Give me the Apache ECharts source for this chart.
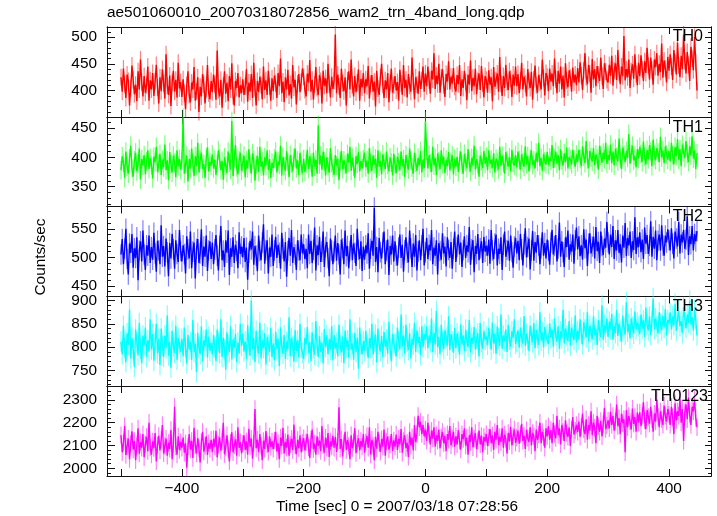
<!DOCTYPE html>
<html><head><meta charset="utf-8">
<script src="https://cdn.jsdelivr.net/npm/echarts@6/dist/echarts.min.js"></script>
<style>html,body{margin:0;padding:0;background:#fff}#c{width:717px;height:516px}</style>
</head><body><div id="c"></div>
<script>
const titleText = "ae501060010_20070318072856_wam2_trn_4band_long.qdp";
const xTitle = "Time [sec] 0 = 2007/03/18 07:28:56";
const yTitle = "Counts/sec";
const tStart = -500, tStep = 2;
const xMin = -523, xMax = 469;
const xTicks = [-500,-400,-300,-200,-100,0,100,200,300,400];
const xLabels = [-400,-200,0,200,400];
const bandNames = ["TH0","TH1","TH2","TH3","TH0123"];
const bandErr = [16,16,18,22,38];

const th0 = [
425,398,441,412,386,430,418,372,405,447,420,393,411,380,436,402,458,415,389,427,396,410,445,381,419,
402,433,390,417,448,406,376,425,399,440,414,385,468,409,392,428,371,415,437,398,420,387,452,404,416,
388,421,395,365,410,436,392,378,415,402,444,381,398,425,360,407,389,431,412,376,403,448,395,384,418,
397,430,412,383,475,401,389,420,368,409,436,394,415,380,427,402,451,390,372,418,405,433,387,410,395,
421,392,408,440,379,415,398,431,386,452,405,372,418,397,426,410,384,445,401,419,392,437,408,381,423,
399,428,414,386,433,408,460,395,417,378,425,402,439,391,412,385,448,406,420,374,413,431,397,416,441,
426,401,389,432,415,457,398,420,383,411,444,405,392,429,418,376,437,409,423,395,450,412,387,426,403,
418,505,395,430,408,386,441,414,399,425,372,419,436,402,458,411,389,427,397,415,440,381,422,406,433,
395,421,408,446,385,413,429,398,417,370,437,404,392,425,450,411,386,419,402,433,378,415,441,396,410,
427,400,416,381,439,413,392,448,405,420,387,431,409,398,462,417,384,425,411,394,436,403,419,445,398,
432,408,445,419,394,437,421,470,403,428,412,450,396,425,440,410,388,431,417,455,402,426,413,442,407,
398,429,412,448,390,421,405,437,416,382,430,411,456,399,424,408,441,393,418,432,401,446,414,387,427,
420,396,438,411,425,380,444,407,419,432,398,463,413,390,427,405,448,416,401,436,422,388,430,409,445,
408,431,395,419,452,402,426,413,389,440,418,405,435,383,421,447,410,396,429,415,402,458,424,391,433,
426,399,441,417,432,408,460,421,395,437,413,445,402,428,387,451,419,406,438,424,398,443,415,430,410,
442,415,453,428,401,437,470,425,412,448,432,396,459,421,440,408,446,430,418,462,427,403,451,436,420,
415,448,428,465,409,437,451,420,476,433,412,445,427,502,419,440,425,458,405,436,449,422,468,431,410,
452,427,466,440,418,455,433,480,447,421,462,439,411,458,444,470,428,450,435,488,424,456,441,415,463,
437,468,445,420,476,452,430,490,447,425,465,440,505,455,432,472,448,418,482,460,438,500,452,400];
const th1 = [
378,402,391,365,410,384,372,398,420,381,367,395,408,376,389,415,362,397,386,404,371,393,412,380,399,
387,364,401,392,418,375,389,406,370,396,383,422,378,395,361,409,388,374,403,391,366,412,385,397,379,
394,468,372,388,403,359,397,381,415,390,368,402,385,425,374,396,408,380,389,365,399,417,376,392,386,
405,381,396,370,389,412,398,378,394,362,400,386,373,410,391,379,462,368,398,421,383,371,395,408,377,
390,403,366,395,381,414,389,372,407,396,360,388,402,375,418,384,393,369,400,386,412,378,397,365,391,
382,398,410,374,393,387,420,369,401,385,377,411,392,366,404,389,376,399,415,381,395,370,408,386,373,
397,375,389,413,380,402,391,367,408,384,396,372,455,388,403,379,410,393,369,400,385,374,416,390,382,
370,404,386,398,361,393,411,380,395,387,373,406,391,418,377,399,384,365,402,389,409,376,394,381,397,
408,383,395,372,416,390,377,403,388,398,365,412,384,394,371,405,392,380,410,387,376,400,391,369,406,
388,373,401,392,378,410,385,397,366,404,389,379,415,395,383,372,408,391,377,399,386,411,374,396,382,
462,412,381,404,390,375,418,386,399,370,407,393,380,412,388,401,373,396,385,409,378,392,404,371,398,
384,401,375,395,410,387,372,406,392,381,414,390,376,399,386,420,379,397,388,367,403,393,382,411,389,
401,378,412,389,396,382,407,374,398,392,379,418,385,403,390,372,409,395,384,400,376,413,391,386,404,
383,410,395,379,405,391,384,419,388,402,376,397,412,387,395,381,408,392,425,385,399,377,406,393,388,
409,387,400,394,421,382,398,410,389,404,378,414,395,386,407,392,417,381,401,396,388,413,397,384,405,
392,413,398,385,419,401,390,428,396,382,411,400,393,416,387,405,398,379,420,403,391,408,397,425,389,
404,395,422,390,410,386,415,401,393,432,398,380,417,405,392,411,399,440,389,406,420,395,403,383,414,
398,418,406,392,427,401,388,413,397,421,410,385,430,403,395,416,408,392,435,400,412,390,419,405,396,
411,393,425,404,388,418,402,431,396,414,385,422,409,399,428,406,392,419,403,436,398,412,380,407];
const th2 = [
505,532,488,515,550,497,470,524,508,541,482,516,499,535,460,512,528,493,547,505,478,521,503,538,490,
518,496,543,507,475,529,512,488,556,501,520,484,533,509,467,525,498,541,514,480,530,506,492,548,511,
493,521,506,472,537,514,498,545,481,510,526,463,515,532,490,507,549,485,519,501,538,476,512,528,497,
526,488,514,539,503,477,520,555,495,512,483,530,508,547,469,516,501,535,490,522,511,481,544,506,519,
500,534,492,517,461,508,529,514,545,487,520,503,476,538,511,495,526,558,489,513,530,472,517,501,540,
485,512,536,499,522,508,480,543,515,493,527,466,511,534,503,548,490,518,505,478,530,512,495,540,507,
523,497,515,481,540,506,529,490,513,552,477,521,504,536,492,510,545,483,518,527,499,467,533,512,488,
510,538,494,525,505,470,531,516,488,547,502,520,481,511,539,495,524,508,485,550,513,497,528,476,519,
496,521,507,542,480,515,529,503,587,492,518,474,534,509,498,526,545,488,512,531,469,520,505,538,493,
528,503,486,517,540,499,522,475,513,535,508,491,547,516,483,524,501,539,477,510,530,495,521,550,486,
509,534,497,522,512,548,488,517,503,530,470,525,511,496,542,507,519,484,535,513,499,527,480,515,545,
492,518,540,505,526,483,513,537,499,521,509,553,487,514,530,474,520,506,541,495,516,528,490,536,510,
520,503,531,489,548,512,497,524,540,486,515,506,535,478,522,545,501,513,529,494,538,509,482,519,534,
507,529,495,541,514,486,523,551,500,518,533,479,512,546,494,527,508,539,521,488,516,544,503,525,498,
531,512,487,526,548,505,520,539,493,515,561,501,528,509,483,535,518,547,496,523,510,540,489,530,552,
514,537,502,521,496,549,516,531,485,524,542,507,519,536,498,553,511,527,490,545,520,504,533,517,562,
526,505,540,518,555,497,530,512,548,508,523,491,538,517,560,502,534,521,545,499,528,513,570,506,535,
518,544,509,531,497,552,524,539,506,520,563,501,536,515,547,495,529,540,512,556,521,503,538,526,549,
530,512,551,524,498,545,533,519,562,507,540,526,548,515,531,572,504,537,523,555,512,541,528,546];
const th3 = [
812,785,846,798,768,830,805,880,776,820,795,758,838,810,783,852,797,766,825,804,842,779,815,791,860,
795,828,771,810,850,787,818,762,840,803,779,825,798,868,782,812,756,835,801,788,846,773,820,806,790,
818,781,842,800,765,826,795,812,773,858,790,808,747,831,799,785,845,770,815,802,838,778,823,792,810,
784,826,801,770,838,812,787,860,779,820,796,752,832,805,790,845,774,817,799,828,768,810,786,850,803,
830,791,812,775,847,806,782,900,795,820,768,835,801,787,853,776,815,798,830,763,822,805,790,841,779,
808,772,833,797,818,760,842,801,786,826,775,812,795,864,780,820,803,769,837,792,815,778,850,799,788,
775,820,806,843,788,811,770,832,798,784,856,803,779,824,790,810,765,839,800,826,785,818,794,845,772,
826,797,810,781,848,804,789,823,766,836,800,815,778,860,795,808,773,831,790,820,754,842,806,785,813,
792,835,803,777,819,798,850,784,812,827,768,840,806,791,824,779,833,801,817,786,855,796,770,828,810,
806,780,842,813,796,870,801,825,787,848,812,794,830,776,818,805,852,790,836,809,822,783,845,800,828,
815,845,798,825,810,862,790,831,806,878,800,822,785,848,812,796,836,820,803,866,794,828,812,788,841,
798,830,812,784,849,806,825,792,838,814,800,858,789,821,807,843,795,818,830,780,852,811,797,834,816,
823,805,841,817,795,853,808,829,786,845,819,803,870,797,825,812,838,790,848,816,801,834,820,860,807,
811,836,799,842,821,808,867,803,830,815,792,846,826,810,852,798,837,820,805,875,814,832,800,843,824,
828,807,851,820,838,801,862,826,812,845,797,834,819,880,808,840,825,813,856,803,842,827,815,868,810,
835,818,860,829,806,853,838,821,875,812,846,832,817,866,826,840,805,858,835,822,890,816,848,831,862,
822,855,838,871,816,845,830,880,824,851,835,812,868,841,827,896,833,850,819,862,844,829,877,838,853,
845,828,870,840,858,822,885,848,836,866,826,855,904,838,862,845,830,875,851,836,868,842,882,825,858,
852,874,838,866,847,893,835,860,878,845,856,830,886,862,841,870,852,900,848,865,836,880,858,825];
const th0123 = [
2145,2070,2112,2185,2058,2096,2130,2040,2108,2162,2082,2120,2035,2098,2175,2064,2115,2090,2150,2048,2105,2138,2075,2200,2092,
2060,2118,2088,2155,2030,2102,2142,2078,2125,2190,2065,2098,2130,2055,2112,2085,2168,2040,2107,2270,2095,2060,2140,2080,2115,
2090,2135,2068,2110,2002,2096,2150,2082,2120,2045,2178,2100,2065,2132,2088,2025,2115,2160,2073,2098,2140,2058,2110,2085,2125,
2070,2128,2095,2165,2048,2104,2136,2077,2118,2200,2062,2092,2145,2084,2030,2112,2158,2070,2101,2127,2055,2180,2090,2115,2066,
2108,2145,2080,2118,2060,2173,2095,2130,2042,2110,2260,2088,2125,2070,2150,2098,2035,2120,2085,2163,2105,2072,2140,2094,2118,
2085,2122,2160,2074,2110,2040,2135,2098,2178,2065,2116,2090,2148,2055,2105,2130,2080,2192,2100,2062,2125,2088,2145,2070,2112,
2132,2078,2115,2150,2092,2045,2126,2170,2084,2108,2060,2140,2098,2122,2075,2185,2102,2068,2135,2090,2155,2050,2118,2095,2142,
2090,2138,2072,2117,2268,2085,2128,2052,2110,2160,2080,2124,2098,2040,2145,2088,2115,2175,2066,2108,2132,2078,2120,2095,2150,
2068,2115,2142,2090,2180,2060,2125,2100,2035,2138,2086,2160,2110,2072,2128,2095,2170,2055,2118,2140,2082,2104,2150,2076,2122,
2095,2148,2080,2130,2105,2172,2068,2120,2145,2088,2112,2050,2160,2100,2135,2078,2190,2115,2150,2230,2180,2205,2150,2190,2140,
2170,2120,2200,2150,2105,2165,2130,2180,2095,2145,2120,2170,2088,2135,2160,2110,2142,2075,2150,2125,2185,2100,2130,2160,2095,
2140,2105,2168,2120,2082,2150,2128,2175,2100,2135,2060,2145,2115,2180,2092,2130,2155,2085,2120,2165,2105,2142,2070,2138,2118,
2150,2098,2135,2172,2110,2145,2080,2160,2125,2190,2102,2138,2115,2175,2090,2148,2128,2065,2155,2118,2182,2100,2140,2170,2112,
2135,2165,2108,2150,2195,2120,2142,2085,2168,2132,2115,2180,2100,2155,2140,2075,2170,2125,2148,2200,2110,2160,2135,2090,2175,
2140,2185,2125,2168,2110,2200,2150,2132,2230,2145,2175,2105,2190,2160,2120,2210,2155,2138,2180,2098,2170,2225,2148,2165,2190,
2160,2205,2138,2182,2240,2170,2150,2215,2125,2190,2165,2250,2145,2200,2178,2110,2230,2185,2160,2208,2140,2195,2265,2172,2188,
2210,2175,2248,2190,2230,2165,2205,2280,2185,2220,2150,2240,2198,2215,2070,2255,2180,2230,2205,2170,2262,2195,2225,2160,2245,
2200,2245,2185,2230,2290,2210,2172,2255,2225,2195,2270,2215,2160,2240,2205,2300,2225,2180,2250,2215,2190,2275,2230,2205,2260,
2235,2190,2270,2225,2150,2285,2210,2250,2230,2305,2200,2260,2120,2245,2280,2215,2310,2235,2190,2270,2250,2300,2220,2180];

const yRanges = [[350.5,519],[316,469],[431.5,589],[717,908.6],[1966,2361]];
const yMajor = [[400,450,500],[350,400,450],[450,500,550],[750,800,850,900],[2000,2100,2200,2300]];
const yMinorStep = [10,10,10,10,20];

const seriesValues = [th0, th1, th2, th3, th0123];
const colors = ['#ff0000','#00ff00','#0000ff','#00ffff','#ff00ff'];
const errColors = ['rgba(255,0,0,0.5)','rgba(0,255,0,0.5)','rgba(0,0,255,0.5)','rgba(0,255,255,0.5)','rgba(255,0,255,0.5)'];

const FONT = '"Liberation Sans", Arial, Helvetica, sans-serif';
const gridTops = [27,117,206.5,296.5,386];
const gridH = [90,89.5,90,89.5,90];

const grids = [], xAxes = [], yAxes = [], series = [];
const axisLineStyle = {color:'#111', width:1};
const minus = v => String(v).replace('-', '\u2212');
const plain = v => String(v);

for (let i = 0; i < 5; i++) {
  grids.push({left:107, width:604, top:gridTops[i], height:gridH[i], containLabel:false});
  const last = i === 4;
  ['bottom','top'].forEach(pos => {
    xAxes.push({
      gridIndex:i, type:'value', position:pos, min:xMin, max:xMax,
      axisLine:{show:true, onZero:false, lineStyle:axisLineStyle},
      axisTick:{show:true, inside:true, length:7, customValues:xTicks, lineStyle:axisLineStyle},
      axisLabel:{show: last && pos==='bottom', customValues:xLabels, formatter:minus,
        fontFamily:FONT, fontSize:15.4, color:'#000', margin:5},
      splitLine:{show:false}
    });
  });
  const [lo, hi] = yRanges[i];
  const minor = [];
  for (let v = Math.ceil(lo / yMinorStep[i]) * yMinorStep[i]; v <= hi; v += yMinorStep[i]) {
    if (yMajor[i].indexOf(v) < 0) minor.push(v);
  }
  const mk = (pos, ticks, len, labels) => ({
    gridIndex:i, type:'value', position:pos, min:lo, max:hi,
    axisLine:{show:true, onZero:false, lineStyle:axisLineStyle},
    axisTick:{show:true, inside:true, length:len, customValues:ticks, lineStyle:axisLineStyle},
    axisLabel:{show:labels, customValues:yMajor[i], formatter:plain, fontFamily:FONT, fontSize:15.4, color:'#000', margin:10},
    splitLine:{show:false}
  });
  yAxes.push(mk('left', yMajor[i], 8, true));
  yAxes.push(mk('left', minor, 4, false));
  yAxes.push(mk('right', yMajor[i], 6, false));
  yAxes.push(mk('right', minor, 3, false));

  const vals = seriesValues[i];
  const data = vals.map((v, k) => [tStart + k * tStep, v]);
  const err = bandErr[i], ec = errColors[i];
  series.push({
    type:'custom', xAxisIndex:2*i, yAxisIndex:4*i, data:data, clip:false, silent:true,
    renderItem:(params, api) => {
      const x = api.value(0), y = api.value(1);
      const p1 = api.coord([x, y - err]), p2 = api.coord([x, y + err]);
      return {type:'line', shape:{x1:p1[0], y1:p1[1], x2:p2[0], y2:p2[1]},
        style:{stroke:ec, lineWidth:1.2}};
    }
  });
  series.push({
    type:'line', xAxisIndex:2*i, yAxisIndex:4*i, data:data, showSymbol:false, symbol:'none',
    clip:false, silent:true, lineStyle:{color:colors[i], width:1.4}, itemStyle:{color:colors[i]}
  });
}

const labelYs = [37,127.5,217,307,397];
const graphics = [
  {type:'text', left:107, top:5, style:{text:titleText, font:'15.4px ' + FONT, fill:'#000'}},
  {type:'text', x:397, y:507, style:{text:xTitle, font:'15.4px ' + FONT, fill:'#000', textAlign:'center', textVerticalAlign:'middle'}},
  {type:'text', x:41, y:257, rotation:Math.PI/2, style:{text:yTitle, font:'15.4px ' + FONT, fill:'#000', textAlign:'center', textVerticalAlign:'middle'}}
];
bandNames.forEach((n, i) => {
  graphics.push({type:'text', x: i === 4 ? 708 : 703, y:labelYs[i], z:100,
    style:{text:n, font:'16px ' + FONT, fill:'#000', textAlign:'right', textVerticalAlign:'middle'}});
});

const chart = echarts.init(document.getElementById('c'), null, {renderer:'canvas'});
chart.setOption({
  animation:false,
  backgroundColor:'#fff',
  grid:grids, xAxis:xAxes, yAxis:yAxes, series:series, graphic:graphics
});
</script></body></html>
